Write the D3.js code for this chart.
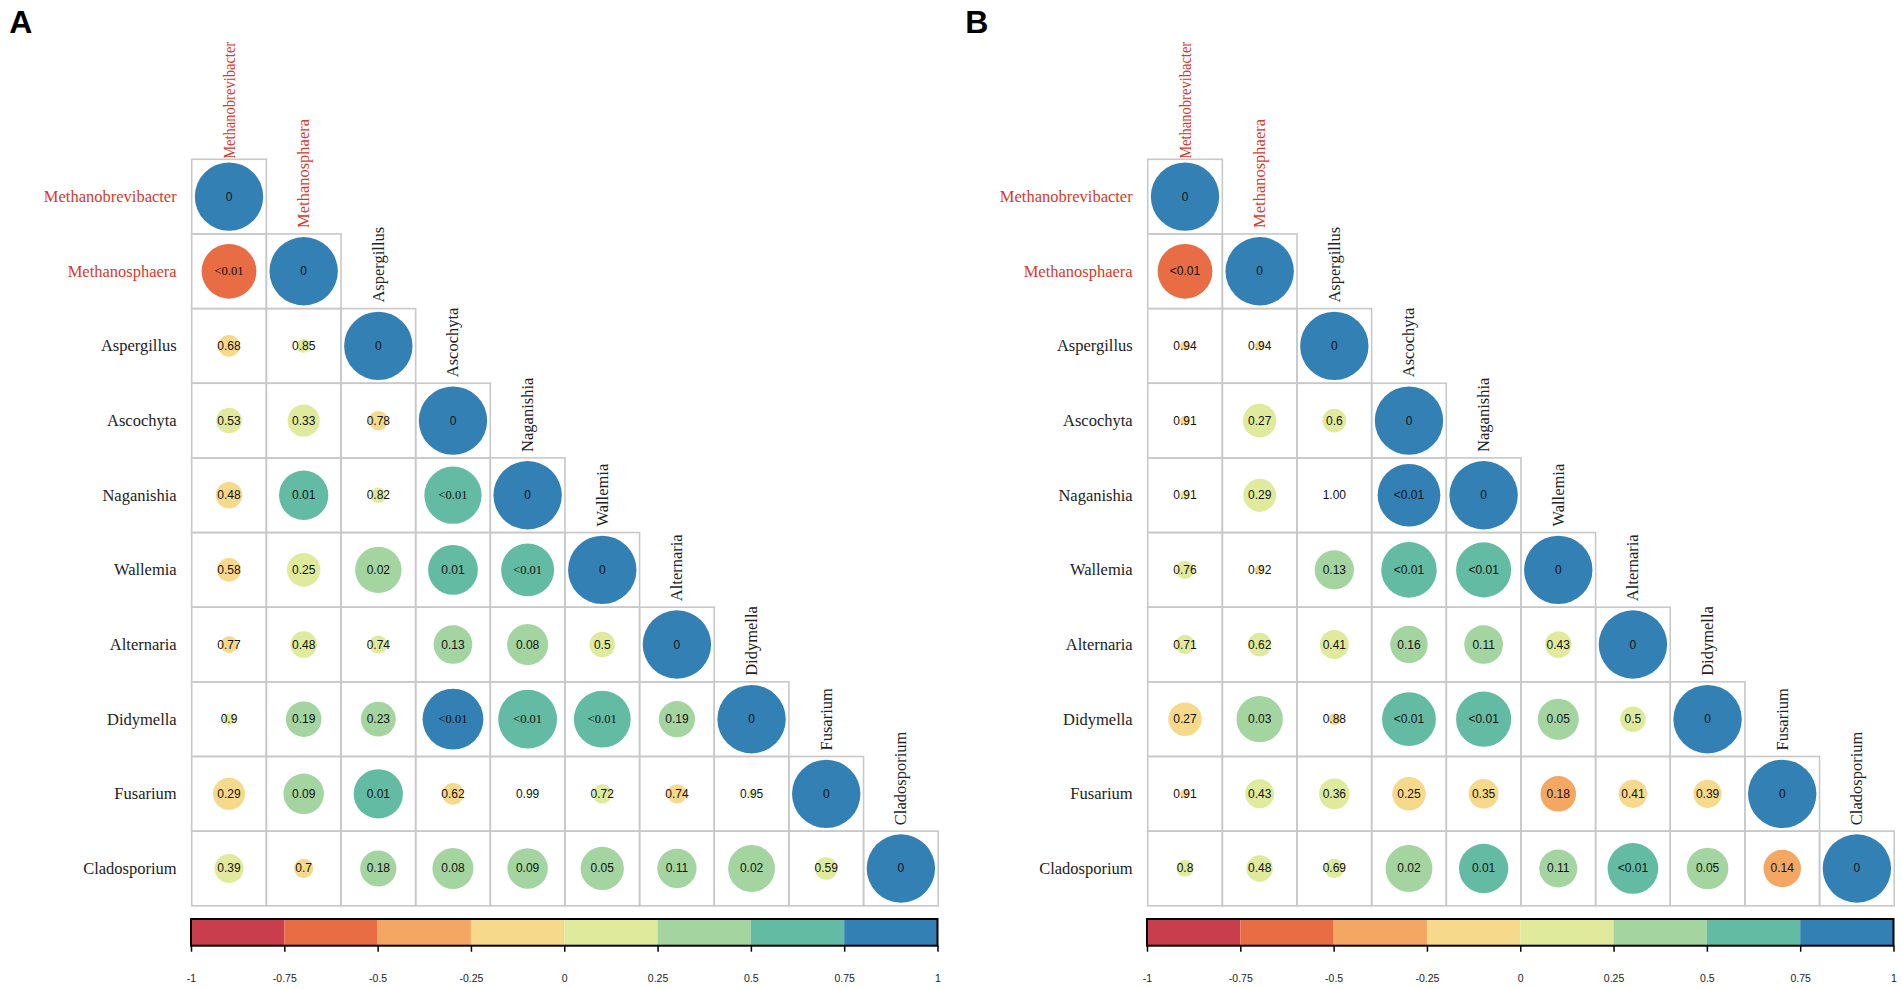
<!DOCTYPE html>
<html>
<head>
<meta charset="utf-8">
<script src="https://cdn.jsdelivr.net/npm/d3@7/dist/d3.min.js"></script>
<style>
	body { margin: 0; background: #fff; }
</style>
</head>
<body>
<script>
// taxa shown on both panels (rows and columns)
var taxa = ["Methanobrevibacter", "Methanosphaera", "Aspergillus", "Ascochyta", "Naganishia",
	"Wallemia", "Alternaria", "Didymella", "Fusarium", "Cladosporium"];
var archaea = ["Methanobrevibacter", "Methanosphaera"];

// panel A : correlation (circle) and p value (label), lower triangle
var corrA = [
	[1],
	[-0.64, 1],
	[-0.10, 0.04, 1],
	[0.14, 0.22, -0.08, 1],
	[-0.15, 0.52, 0.05, 0.70, 1],
	[-0.12, 0.24, 0.46, 0.53, 0.60, 1],
	[-0.06, 0.15, 0.07, 0.32, 0.36, 0.14, 1],
	[0.03, 0.27, 0.26, 0.79, 0.74, 0.69, 0.28, 1],
	[-0.22, 0.35, 0.52, -0.10, 0.00, 0.08, -0.08, 0.01, 1],
	[0.18, -0.08, 0.28, 0.36, 0.35, 0.40, 0.33, 0.47, 0.11, 1]
];
var pA = [
	["0"],
	["<0.01", "0"],
	["0.68", "0.85", "0"],
	["0.53", "0.33", "0.78", "0"],
	["0.48", "0.01", "0.82", "<0.01", "0"],
	["0.58", "0.25", "0.02", "0.01", "<0.01", "0"],
	["0.77", "0.48", "0.74", "0.13", "0.08", "0.5", "0"],
	["0.9", "0.19", "0.23", "<0.01", "<0.01", "<0.01", "0.19", "0"],
	["0.29", "0.09", "0.01", "0.62", "0.99", "0.72", "0.74", "0.95", "0"],
	["0.39", "0.7", "0.18", "0.08", "0.09", "0.05", "0.11", "0.02", "0.59", "0"]
];

// panel B
var corrB = [
	[1],
	[-0.64, 1],
	[-0.02, -0.02, 1],
	[-0.02, 0.24, 0.12, 1],
	[0.02, 0.23, 0.00, 0.84, 1],
	[0.07, -0.02, 0.33, 0.66, 0.65, 1],
	[0.08, 0.12, 0.18, 0.30, 0.32, 0.15, 1],
	[-0.24, 0.46, -0.03, 0.62, 0.65, 0.36, 0.14, 1],
	[-0.02, 0.18, 0.20, -0.24, -0.19, -0.27, -0.17, -0.17, 1],
	[0.06, 0.15, 0.08, 0.47, 0.52, 0.31, 0.55, 0.37, -0.30, 1]
];
var pB = [
	["0"],
	["<0.01", "0"],
	["0.94", "0.94", "0"],
	["0.91", "0.27", "0.6", "0"],
	["0.91", "0.29", "1.00", "<0.01", "0"],
	["0.76", "0.92", "0.13", "<0.01", "<0.01", "0"],
	["0.71", "0.62", "0.41", "0.16", "0.11", "0.43", "0"],
	["0.27", "0.03", "0.88", "<0.01", "<0.01", "0.05", "0.5", "0"],
	["0.91", "0.43", "0.36", "0.25", "0.35", "0.18", "0.41", "0.39", "0"],
	["0.8", "0.48", "0.69", "0.02", "0.01", "0.11", "<0.01", "0.05", "0.14", "0"]
];

// colour key
var breaks = [-1, -0.75, -0.5, -0.25, 0, 0.25, 0.5, 0.75, 1];
var breakLabels = ["-1", "-0.75", "-0.5", "-0.25", "0", "0.25", "0.5", "0.75", "1"];
var colors = ["#C83E4D", "#E86C44", "#F3A762", "#F6D98B", "#E0EA9C", "#A4D4A0", "#64BBA3", "#3380B5"];

var width = 1902;
var height = 989;
var cell = 74.65;
var gridTop = 159.3;

var svg = d3.select("body").append("svg")
	.attr("width", width)
	.attr("height", height);

var color = d3.scaleQuantize().domain([-1, 1]).range(colors);
var radius = d3.scaleSqrt().domain([0, 1]).range([0, 34.2]);

drawPanel(svg, "A", 191.7, corrA, pA, true);
drawPanel(svg, "B", 1147.7, corrB, pB, false);

// Draws one triangle correlogram with its colour key
function drawPanel(svg, letter, left, corr, pvals, serifLess) {
	var g = svg.append("g");
	var n = taxa.length;

	var x = d3.scaleBand().domain(taxa).range([left, left + cell * n]);
	var y = d3.scaleBand().domain(taxa).range([gridTop, gridTop + cell * n]);

	// panel letter
	g.append("text")
		.attr("x", left - 182.5)
		.attr("y", 33)
		.attr("font-family", "Liberation Sans, Arial, sans-serif")
		.attr("font-weight", "bold")
		.attr("font-size", 32)
		.text(letter);

	// flatten lower triangle
	var cells = [];
	for (var i = 0; i < n; i++) {
		for (var j = 0; j <= i; j++) {
			cells.push({"row": taxa[i], "col": taxa[j], "r": corr[i][j], "p": pvals[i][j]});
		}
	}

	g.selectAll("rect.cell")
		.data(cells)
		.enter()
		.append("rect")
		.attr("class", "cell")
		.attr("x", function(d) {return x(d.col);})
		.attr("y", function(d) {return y(d.row);})
		.attr("width", x.bandwidth())
		.attr("height", y.bandwidth())
		.attr("fill", "none")
		.attr("stroke", "#C8C8C8")
		.attr("stroke-width", 1.6);

	g.selectAll("circle")
		.data(cells)
		.enter()
		.append("circle")
		.attr("cx", function(d) {return x(d.col) + x.bandwidth() / 2;})
		.attr("cy", function(d) {return y(d.row) + y.bandwidth() / 2;})
		.attr("r", function(d) {return radius(Math.abs(d.r));})
		.attr("fill", function(d) {return color(d.r);});

	g.selectAll("text.pval")
		.data(cells)
		.enter()
		.append("text")
		.attr("class", "pval")
		.attr("x", function(d) {return x(d.col) + x.bandwidth() / 2;})
		.attr("y", function(d) {return y(d.row) + y.bandwidth() / 2;})
		.attr("text-anchor", "middle")
		.attr("dominant-baseline", "central")
		.attr("font-family", function(d) {
			return (serifLess && d.p == "<0.01") ? "Liberation Serif, Times New Roman, serif" : "Liberation Sans, Arial, sans-serif";
		})
		.attr("font-size", function(d) {return (serifLess && d.p == "<0.01") ? 12.5 : 12;})
		.attr("fill", "#111")
		.text(function(d) {return d.p;});

	// row labels
	g.selectAll("text.rowlab")
		.data(taxa)
		.enter()
		.append("text")
		.attr("class", "rowlab")
		.attr("x", left - 15)
		.attr("y", function(d) {return y(d) + y.bandwidth() / 2;})
		.attr("text-anchor", "end")
		.attr("dominant-baseline", "central")
		.attr("font-family", "Liberation Serif, Times New Roman, serif")
		.attr("font-size", 16.5)
		.attr("fill", function(d) {return archaea.indexOf(d) >= 0 ? "#D63A2B" : "#222";})
		.text(function(d) {return d;});

	// column labels, standing on the diagonal cell
	g.selectAll("text.collab")
		.data(taxa)
		.enter()
		.append("text")
		.attr("class", "collab")
		.attr("transform", function(d, k) {
			var cx = x(d) + x.bandwidth() / 2;
			var by = y(d) - (k == 0 ? 0.5 : 6);
			return "translate(" + cx + "," + by + ") rotate(-90)";
		})
		.attr("text-anchor", "start")
		.attr("dominant-baseline", "central")
		.attr("font-family", "Liberation Serif, Times New Roman, serif")
		.attr("font-size", 16.5)
		.attr("fill", function(d) {return archaea.indexOf(d) >= 0 ? "#D63A2B" : "#222";})
		.each(function(d, k) {
			// first label is squeezed to fit above the plot
			if (k == 0) d3.select(this).attr("textLength", 117).attr("lengthAdjust", "spacingAndGlyphs");
		})
		.text(function(d) {return d;});

	// colour key
	var keyX = d3.scaleLinear().domain([-1, 1]).range([left - 0.7, left + cell * n - 0.7]);
	var keyTop = 919;
	var keyH = 26.7;

	var bins = [];
	for (var b = 0; b < colors.length; b++) {
		bins.push({"from": breaks[b], "to": breaks[b + 1], "color": colors[b]});
	}

	g.selectAll("rect.key")
		.data(bins)
		.enter()
		.append("rect")
		.attr("class", "key")
		.attr("x", function(d) {return keyX(d.from);})
		.attr("y", keyTop)
		.attr("width", function(d) {return keyX(d.to) - keyX(d.from);})
		.attr("height", keyH)
		.attr("fill", function(d) {return d.color;});

	g.append("rect")
		.attr("x", keyX(-1))
		.attr("y", keyTop)
		.attr("width", keyX(1) - keyX(-1))
		.attr("height", keyH)
		.attr("fill", "none")
		.attr("stroke", "#000")
		.attr("stroke-width", 2);

	var axis = d3.axisBottom(keyX)
		.tickValues(breaks)
		.tickSize(6)
		.tickPadding(23)
		.tickFormat(function(d, k) {return breakLabels[k];});

	var ax = g.append("g")
		.attr("transform", "translate(0," + (keyTop + keyH) + ")")
		.call(axis);
	ax.select(".domain").remove();
	ax.selectAll("line").attr("stroke", "#000").attr("stroke-width", 1.5);
	ax.selectAll("text")
		.attr("font-family", "Liberation Sans, Arial, sans-serif")
		.attr("font-size", 10.5)
		.attr("fill", "#222");
}
</script>
</body>
</html>
